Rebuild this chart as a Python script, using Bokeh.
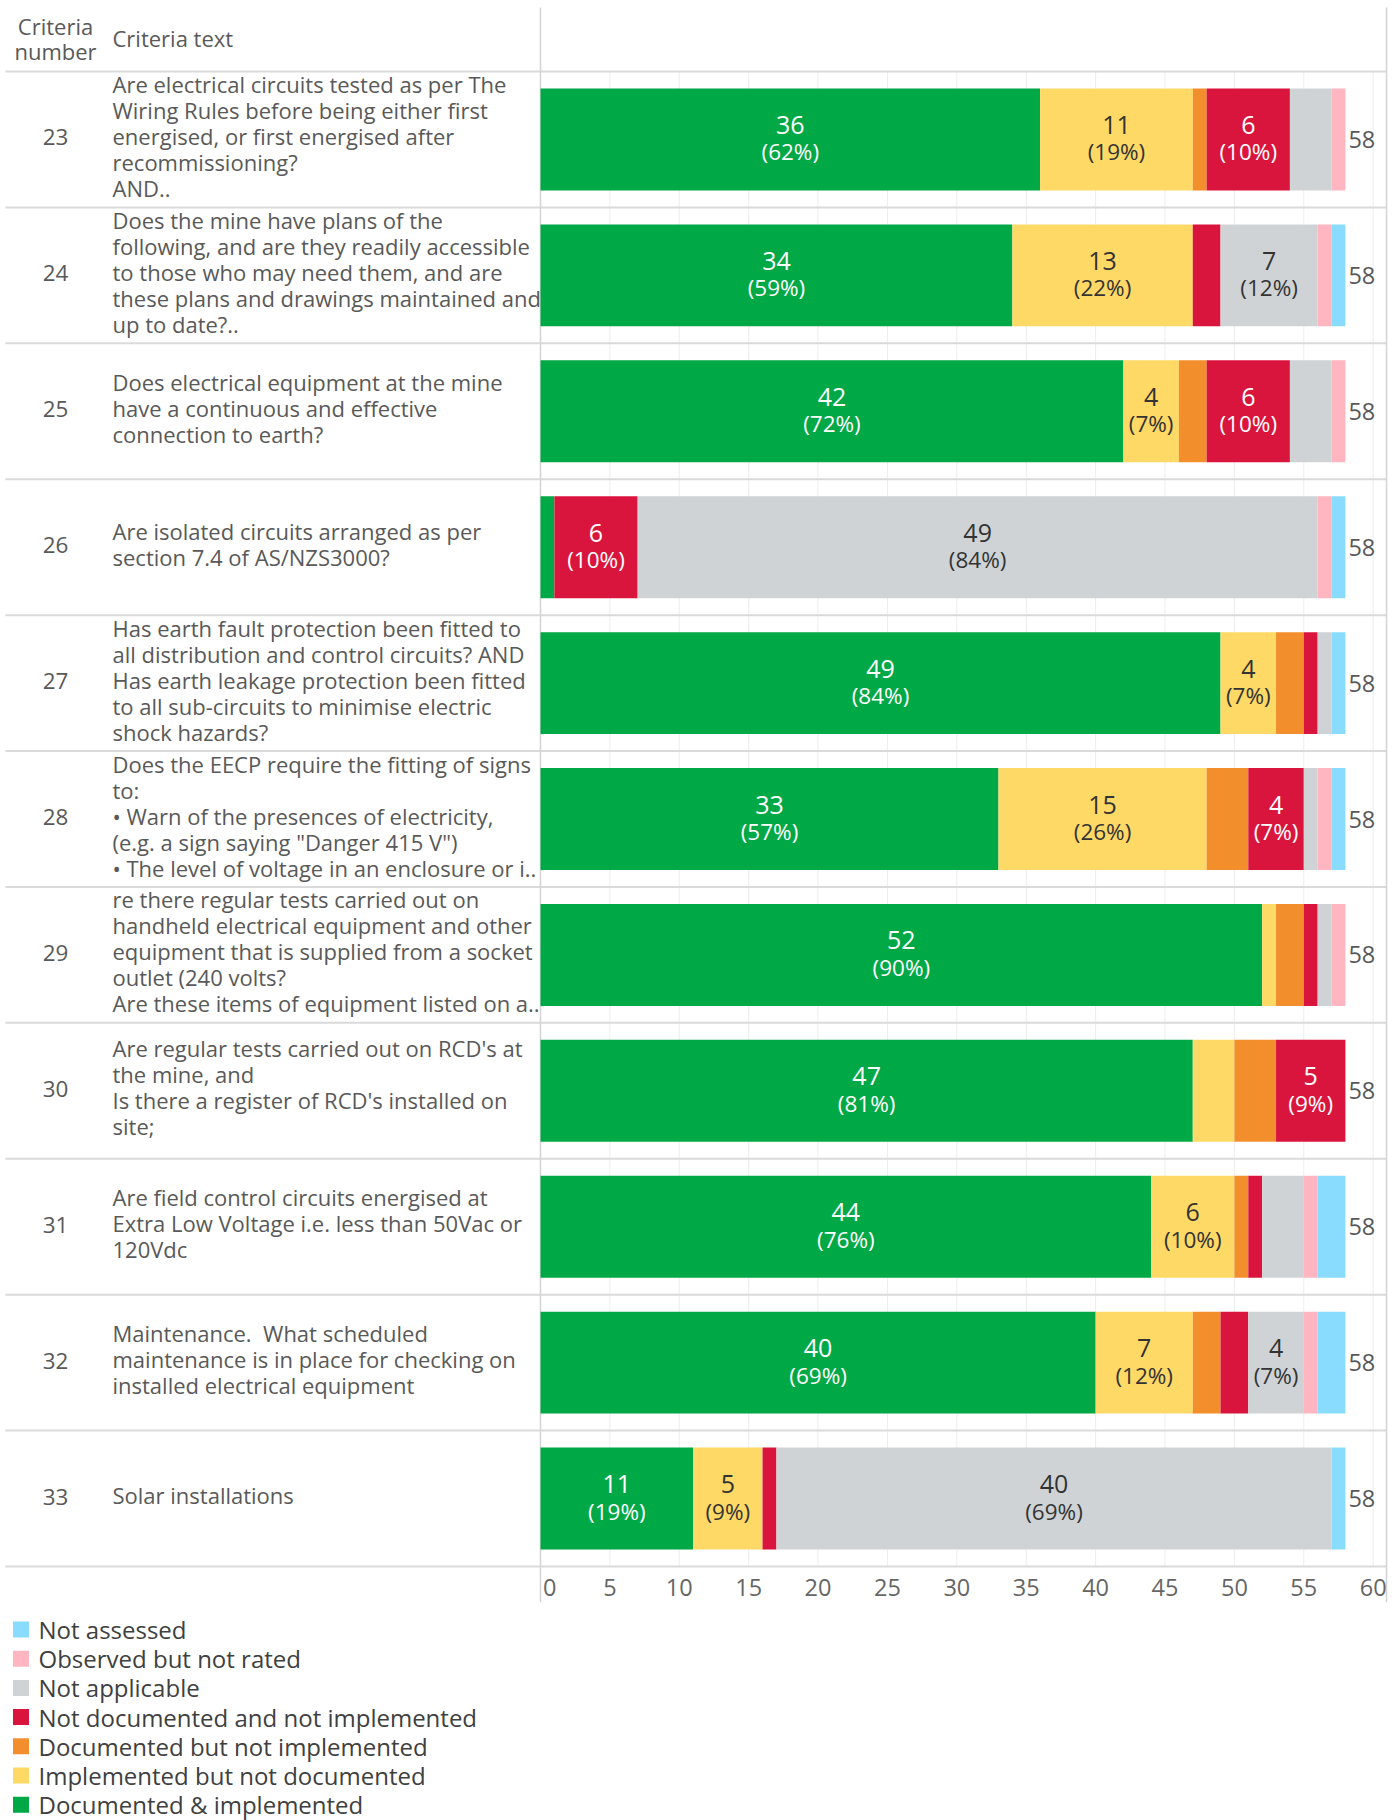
from bokeh.plotting import figure
from bokeh.models import Range1d, FixedTicker, ColumnDataSource
from bokeh.layouts import column
from bokeh.embed import file_html
from bokeh.resources import INLINE
from bokeh.core.properties import value

# ---------------- data ----------------
criteria_numbers = ["23", "24", "25", "26", "27", "28", "29", "30", "31", "32", "33"]
criteria_text = [
    ["Are electrical circuits tested as per The", "Wiring Rules before being either first",
     "energised, or first energised after", "recommissioning?", "AND.."],
    ["Does the mine have plans of the", "following, and are they readily accessible",
     "to those who may need them, and are", "these plans and drawings maintained and", "up to date?.."],
    ["Does electrical equipment at the mine", "have a continuous and effective", "connection to earth?"],
    ["Are isolated circuits arranged as per", "section 7.4 of AS/NZS3000?"],
    ["Has earth fault protection been fitted to", "all distribution and control circuits? AND",
     "Has earth leakage protection been fitted", "to all sub-circuits to minimise electric", "shock hazards?"],
    ["Does the EECP require the fitting of signs", "to:", "\u2022 Warn of the presences of electricity,",
     "(e.g. a sign saying \"Danger 415 V\")", "\u2022 The level of voltage in an enclosure or i.."],
    ["re there regular tests carried out on", "handheld electrical equipment and other",
     "equipment that is supplied from a socket", "outlet (240 volts?", "Are these items of equipment listed on a.."],
    ["Are regular tests carried out on RCD's at", "the mine, and",
     "Is there a register of RCD's installed on", "site;"],
    ["Are field control circuits energised at", "Extra Low Voltage i.e. less than 50Vac or", "120Vdc"],
    ["Maintenance.\u00a0 What scheduled", "maintenance is in place for checking on", "installed electrical equipment"],
    ["Solar installations"],
]

documented_implemented     = [36, 34, 42, 1, 49, 33, 52, 47, 44, 40, 11]
implemented_not_documented = [11, 13, 4, 0, 4, 15, 1, 3, 6, 7, 5]
documented_not_implemented = [1, 0, 2, 0, 2, 3, 2, 3, 1, 2, 0]
not_documented_not_impl    = [6, 2, 6, 6, 1, 4, 1, 5, 1, 2, 1]
not_applicable             = [3, 7, 3, 49, 1, 1, 1, 0, 3, 4, 40]
observed_not_rated         = [1, 1, 1, 1, 0, 1, 1, 0, 1, 1, 0]
not_assessed               = [0, 1, 0, 1, 1, 1, 0, 0, 2, 2, 1]

series_names = ["Documented & implemented", "Implemented but not documented",
                "Documented but not implemented", "Not documented and not implemented",
                "Not applicable", "Observed but not rated", "Not assessed"]
series_values = [documented_implemented, implemented_not_documented, documented_not_implemented,
                 not_documented_not_impl, not_applicable, observed_not_rated, not_assessed]
series_colors = ["#00A846", "#FFD966", "#F28F2C", "#DA153D", "#CFD3D6", "#FFB6C1", "#8ADCFE"]
label_colors = ["#FFFFFF", "#333333", "#333333", "#FFFFFF", "#333333", "#333333", "#333333"]

x_ticks = [0, 5, 10, 15, 20, 25, 30, 35, 40, 45, 50, 55, 60]
header_number = ["Criteria", "number"]
header_text = "Criteria text"

# ---------------- layout (pixels) ----------------
FONT = "Open Sans"
W = 1392
ROW_TOP = 71.0
ROW_H = (1566 - 71) / 11.0
ROWS_END = 1566.0
FRAME_H = 1602
BOTTOM = 4
TOTAL_H = 1820
X0_PX = 540.0
PX_PER_UNIT = 13.878
X_START = -X0_PX / PX_PER_UNIT
X_END = (W - X0_PX) / PX_PER_UNIT
RIGHT_BORDER = 1386.0
LINE_H = 26.0
BAR_H = ROW_H * 0.75


def xpx(px):
    return X_START + px / PX_PER_UNIT


p = figure(width=W, height=FRAME_H + BOTTOM, x_range=Range1d(X_START, X_END),
           y_range=Range1d(FRAME_H, 0), output_backend="svg", toolbar_location=None,
           min_border_left=0, min_border_right=0, min_border_top=0, min_border_bottom=BOTTOM,
           y_axis_location=None, outline_line_color=None)
p.xgrid.visible = False
p.ygrid.visible = False
ax = p.xaxis[0]
ax.ticker = FixedTicker(ticks=x_ticks)
ax.axis_line_color = None
ax.major_tick_line_color = None
ax.minor_tick_line_color = None
ax.major_tick_out = 0
ax.major_tick_in = 0
ax.major_label_standoff = -32
ax.major_label_text_font = FONT
ax.major_label_text_font_size = "23.5px"
ax.major_label_text_color = "#666666"
ax.major_label_overrides = {0: "\u00a0\u00a0\u00a00"}

n_rows = len(criteria_numbers)
row_centers = [ROW_TOP + (i + 0.5) * ROW_H for i in range(n_rows)]

# gridlines
grid_ticks = [t for t in x_ticks if t > 0]
p.segment(x0=grid_ticks, x1=grid_ticks, y0=[ROW_TOP] * len(grid_ticks), y1=[ROWS_END] * len(grid_ticks),
          line_color="#EDEDED", line_width=1)

# row separators
sep_y = [ROW_TOP + i * ROW_H for i in range(n_rows + 1)]
p.segment(x0=[xpx(5)] * len(sep_y), x1=[xpx(RIGHT_BORDER)] * len(sep_y), y0=sep_y, y1=sep_y,
          line_color="#DADADA", line_width=2)
# vertical borders
p.segment(x0=[0, xpx(RIGHT_BORDER)], x1=[0, xpx(RIGHT_BORDER)], y0=[7, 7], y1=[FRAME_H, FRAME_H],
          line_color="#D4D4D4", line_width=1.5)

# stacked bars
src = ColumnDataSource(dict(y=row_centers, **{f"s{k}": v for k, v in enumerate(series_values)}))
p.hbar_stack([f"s{k}" for k in range(len(series_values))], y="y", height=BAR_H,
             color=series_colors, line_color=None, source=src)

# segment labels
lx, ly_c, ly_p, lc, lp, lcol = [], [], [], [], [], []
tot_x, tot_y, tot_t = [], [], []
for i in range(n_rows):
    total = sum(s[i] for s in series_values)
    left = 0
    for k, s in enumerate(series_values):
        v = s[i]
        if v >= 4:
            lx.append(left + v / 2.0)
            ly_c.append(row_centers[i] - 14.5)
            ly_p.append(row_centers[i] + 12.5)
            lc.append(str(v))
            lp.append("(%d%%)" % round(v / total * 100))
            lcol.append(label_colors[k])
        left += v
    tot_x.append(total)
    tot_y.append(row_centers[i])
    tot_t.append(str(total))

p.text(x=lx, y=ly_c, text=lc, text_color=lcol, text_align="center", text_baseline="middle",
       text_font=value(FONT), text_font_size="25px")
p.text(x=lx, y=ly_p, text=lp, text_color=lcol, text_align="center", text_baseline="middle",
       text_font=value(FONT), text_font_size="22.5px")
p.text(x=tot_x, y=tot_y, text=tot_t, x_offset=3, text_color="#595959", text_align="left",
       text_baseline="middle", text_font=value(FONT), text_font_size="23.5px")

# table text
tx, ty, tt = [], [], []
for i, lines in enumerate(criteria_text):
    n = len(lines)
    for j, line in enumerate(lines):
        tx.append(xpx(112))
        ty.append(row_centers[i] + (j - (n - 1) / 2.0) * LINE_H - 3.5)
        tt.append(line)
p.text(x=tx, y=ty, text=tt, text_color="#595959", text_align="left", text_baseline="middle",
       text_font=value(FONT), text_font_size="22px")
p.text(x=[xpx(55)] * n_rows, y=[c - 2 for c in row_centers], text=criteria_numbers, text_color="#595959",
       text_align="center", text_baseline="middle", text_font=value(FONT), text_font_size="22.4px")

# header
p.text(x=[xpx(55)] * 2, y=[25, 50.5], text=header_number, text_color="#595959", text_align="center",
       text_baseline="middle", text_font=value(FONT), text_font_size="22px")
p.text(x=[xpx(112)], y=[37.5], text=[header_text], text_color="#595959", text_align="left",
       text_baseline="middle", text_font=value(FONT), text_font_size="22px")

# ---------------- legend figure ----------------
LEG_TOP = FRAME_H + BOTTOM
LEG_H = TOTAL_H - LEG_TOP
lg = figure(width=W, height=LEG_H, x_range=Range1d(0, W), y_range=Range1d(LEG_H, 0),
            output_backend="svg", toolbar_location=None, min_border=0,
            x_axis_location=None, y_axis_location=None, outline_line_color=None)
lg.xgrid.visible = False
lg.ygrid.visible = False
leg_names = list(reversed(series_names))
leg_colors = list(reversed(series_colors))
LEG_FIRST = 1629 - LEG_TOP
LEG_PITCH = 29.2
leg_y = [LEG_FIRST + k * LEG_PITCH for k in range(len(leg_names))]
lg.rect(x=[20.5] * len(leg_names), y=leg_y, width=16, height=16, fill_color=leg_colors, line_color=None)
lg.text(x=[38] * len(leg_names), y=leg_y, text=leg_names, text_color="#404040", text_align="left",
        text_baseline="middle", text_font=value(FONT), text_font_size="24px")

layout = column(p, lg, spacing=0)
open("out.html", "w").write(file_html(layout, INLINE))
